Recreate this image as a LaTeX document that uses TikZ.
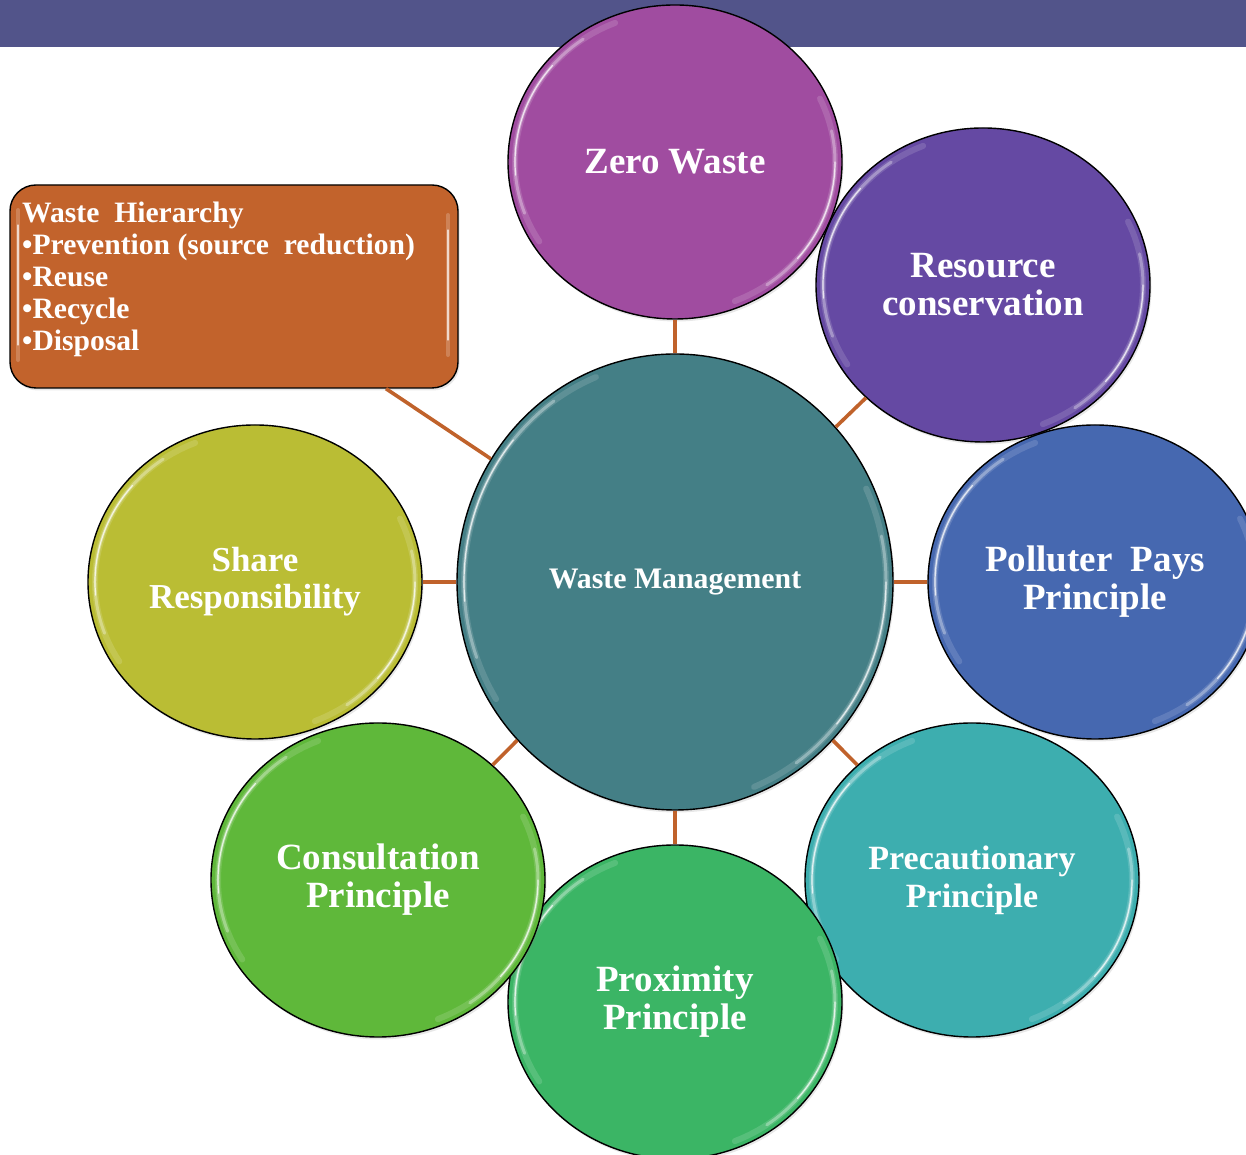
\documentclass[tikz,border=0pt]{standalone}
\usepackage{fontspec}
\setmainfont{Liberation Serif}
\usetikzlibrary{shapes.geometric,shadows}
\definecolor{barcol}{HTML}{52548A}
\definecolor{zerocol}{HTML}{A04CA0}
\definecolor{rescol}{HTML}{6549A3}
\definecolor{polcol}{HTML}{4668B0}
\definecolor{precol}{HTML}{3DAEAF}
\definecolor{procol}{HTML}{3BB565}
\definecolor{concol}{HTML}{5FB83A}
\definecolor{shacol}{HTML}{BABD34}
\definecolor{cencol}{HTML}{447F86}
\definecolor{boxcol}{HTML}{C2632C}
\definecolor{linecol}{HTML}{C0622B}
\newcommand\glint[5]{%
  \pgfmathsetmacro\ga{#3-7}\pgfmathsetmacro\gb{#4-7}%
  \draw[line width=6pt,#5!60!white,opacity=0.35,line cap=round]
    (#1,#2) ++(112:\ga pt and \gb pt) arc[start angle=112,end angle=212,x radius=\ga pt,y radius=\gb pt];
  \draw[line width=3pt,#5!40!white,opacity=0.6,line cap=round]
    (#1,#2) ++(125:\ga pt and \gb pt) arc[start angle=125,end angle=200,x radius=\ga pt,y radius=\gb pt];
  \draw[line width=1.2pt,white,opacity=0.75,line cap=round]
    (#1,#2) ++(140:\ga pt and \gb pt) arc[start angle=140,end angle=185,x radius=\ga pt,y radius=\gb pt];
  \draw[line width=6pt,#5!60!white,opacity=0.35,line cap=round]
    (#1,#2) ++(-68:\ga pt and \gb pt) arc[start angle=-68,end angle=25,x radius=\ga pt,y radius=\gb pt];
  \draw[line width=3pt,#5!40!white,opacity=0.6,line cap=round]
    (#1,#2) ++(-55:\ga pt and \gb pt) arc[start angle=-55,end angle=12,x radius=\ga pt,y radius=\gb pt];
  \draw[line width=1.2pt,white,opacity=0.75,line cap=round]
    (#1,#2) ++(-40:\ga pt and \gb pt) arc[start angle=-40,end angle=0,x radius=\ga pt,y radius=\gb pt];
}
\begin{document}
\begin{tikzpicture}[x=1pt,y=1pt,
  bub/.style={ellipse, draw=black, line width=1.4pt, inner sep=0pt, text=white, align=center,
    font=\bfseries\fontsize{37}{38}\selectfont,
    drop shadow={opacity=0.18,shadow xshift=1.5pt,shadow yshift=-2.5pt}},
  small/.style={minimum width=334pt, minimum height=314pt},
  link/.style={draw=linecol, line width=3.6pt},
  boxline/.style={anchor=base west, inner sep=0pt, text=white, font=\bfseries\fontsize{29.6}{32}\selectfont}]
\useasboundingbox (0,0) rectangle (1246,1155);
\fill[white] (0,0) rectangle (1246,1155);
\fill[barcol] (0,1108) rectangle (1246,1155);

% centre
\node[bub, fill=cencol, minimum width=436pt, minimum height=456pt,
  font=\bfseries\fontsize{29.8}{30}\selectfont] (wm) at (675,573) {Waste Management};
\glint{675}{573}{218}{228}{cencol}

% waste hierarchy box
\node[draw=black, line width=1.4pt, fill=boxcol, rounded corners=26pt, minimum width=448pt,
  minimum height=203pt, inner sep=0pt,
  drop shadow={opacity=0.18,shadow xshift=1.5pt,shadow yshift=-2.5pt}] (wh) at (234,868.5) {};
\draw[line width=4pt, boxcol!60!white, opacity=0.5, line cap=round] (18,945) -- (18,795);
\draw[line width=1.2pt, white, opacity=0.7, line cap=round] (18,930) -- (18,810);
\draw[line width=4pt, boxcol!60!white, opacity=0.5, line cap=round] (448,940) -- (448,800);
\draw[line width=1.2pt, white, opacity=0.7, line cap=round] (448,925) -- (448,815);
\node[boxline] (l1) at (22,932) {Waste\ \ Hierarchy};
\node[boxline] (l2) at (22,900) {•Prevention (source\ \ reduction)};
\node[boxline] (l3) at (22,868) {•Reuse};
\node[boxline] (l4) at (22,836) {•Recycle};
\node[boxline] (l5) at (22,804) {•Disposal};

% outer circles
\node[bub, small, fill=zerocol] (zw) at (675,993) {Zero Waste};
\glint{675}{993}{167}{157}{zerocol}
\node[bub, small, fill=rescol] (rc) at (983,870) {Resource\\conservation};
\glint{983}{870}{167}{157}{rescol}
\node[bub, small, fill=polcol] (pp) at (1095,573) {Polluter\ \ Pays\\Principle};
\glint{1095}{573}{167}{157}{polcol}
\node[bub, small, fill=precol, font=\bfseries\fontsize{34}{38}\selectfont] (pc) at (972,275) {Precautionary\\Principle};
\glint{972}{275}{167}{157}{precol}
\node[bub, small, fill=procol] (px) at (675,153) {Proximity\\Principle};
\glint{675}{153}{167}{157}{procol}
\node[bub, small, fill=concol] (cp) at (378,275) {Consultation\\Principle};
\glint{378}{275}{167}{157}{concol}
\node[bub, small, fill=shacol, font=\bfseries\fontsize{35}{37}\selectfont] (sr) at (255,573) {Share\\Responsibility};
\glint{255}{573}{167}{157}{shacol}

% connectors
\draw[link] (wm) -- (zw);
\draw[link] (wm) -- (rc);
\draw[link] (wm) -- (pp);
\draw[link] (wm) -- (pc);
\draw[link] (wm) -- (px);
\draw[link] (wm) -- (cp);
\draw[link] (wm) -- (sr);
\draw[link] (wm) -- (wh);
\end{tikzpicture}
\end{document}
